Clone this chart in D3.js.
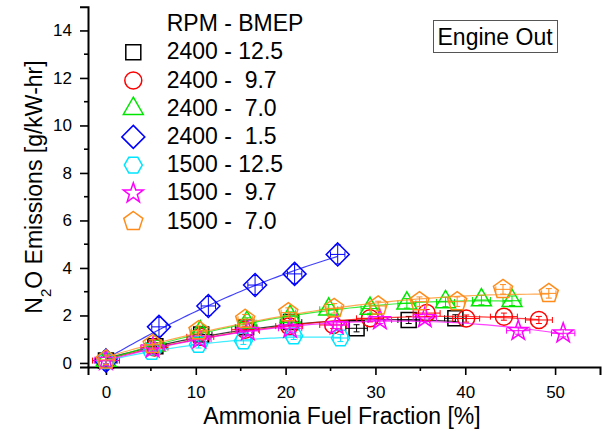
<!DOCTYPE html>
<html>
<head>
<meta charset="utf-8">
<script src="https://cdn.jsdelivr.net/npm/d3@7"></script>
<style>
    body { margin: 0; background: #fff; }
    text { font-family: "Liberation Sans", Arial, sans-serif; fill: #000; }
</style>
</head>
<body>
<svg id="chart" width="610" height="431"></svg>
<script>
// legend entries (RPM - BMEP), in drawing order
const seriesNames = ['2400 - 12.5', '2400 -  9.7', '2400 -  7.0', '2400 -  1.5', '1500 - 12.5', '1500 -  9.7', '1500 -  7.0'];
const seriesColors = ['#000000', '#ff0000', '#00e600', '#0000ff', '#00e5ff', '#ff00ff', '#ff8c1a'];
const seriesShapes = ['square', 'circle', 'triangle', 'diamond', 'hexagon', 'star', 'pentagon'];

// ammonia fuel fraction [%] and N2O [g/kW-hr]
const fraction2400_125 = [0, 5.5, 10.6, 15.6, 20.6, 27.9, 33.7, 38.9];
const n2o2400_125      = [0.1, 0.7, 1.2, 1.5, 1.72, 1.46, 1.81, 1.88];
const fraction2400_97  = [0, 5.4, 10.5, 15.5, 20.4, 25.3, 29.4, 35.7, 40.1, 44.3, 48.2];
const n2o2400_97       = [0.1, 0.65, 1.1, 1.4, 1.55, 1.6, 1.88, 2.1, 1.87, 1.95, 1.81];
const fraction2400_70  = [0, 5.5, 10.5, 15.7, 20.5, 24.8, 29.4, 33.5, 37.8, 41.8, 45.2];
const n2o2400_70       = [0.1, 0.75, 1.3, 1.7, 1.95, 2.26, 2.29, 2.51, 2.57, 2.65, 2.62];
const fraction2400_15  = [0, 5.9, 11.4, 16.6, 21.0, 25.8];
const n2o2400_15       = [0.1, 1.52, 2.4, 3.28, 3.75, 4.57];
const fraction1500_125 = [0, 5.1, 10.3, 15.3, 20.9, 26.1];
const n2o1500_125      = [0.1, 0.48, 0.78, 0.93, 1.14, 1.05];
const fraction1500_97  = [0, 5.2, 10.4, 15.8, 20.5, 25.7, 30.5, 35.5, 45.9, 50.9];
const n2o1500_97       = [0.1, 0.62, 1.0, 1.35, 1.46, 1.6, 1.81, 1.9, 1.36, 1.25];
const fraction1500_70  = [0, 5.2, 10.3, 15.5, 20.3, 25.4, 30.3, 34.9, 39.1, 44.2, 49.3];
const n2o1500_70       = [0.13, 0.78, 1.36, 1.84, 2.12, 2.3, 2.4, 2.58, 2.58, 3.1, 2.93];

// error bar half widths per series
const errFraction = [1.2, 1.5, 1.0, 0.8, 0.8, 1.3, 0.8];
const errN2O      = [0.15, 0.15, 0.2, 0.4, 0.15, 0.15, 0.2];

// ticks
const xTicks = [0, 10, 20, 30, 40, 50];
const xMinorTicks = [5, 15, 25, 35, 45];
const yTicks = [0, 2, 4, 6, 8, 10, 12, 14];
const yMinorTicks = [1, 3, 5, 7, 9, 11, 13];

const fractions = [fraction2400_125, fraction2400_97, fraction2400_70, fraction2400_15, fraction1500_125, fraction1500_97, fraction1500_70];
const emissions = [n2o2400_125, n2o2400_97, n2o2400_70, n2o2400_15, n2o1500_125, n2o1500_97, n2o1500_70];

const series = seriesNames.map((name, i) => ({
    name: name,
    color: seriesColors[i],
    shape: seriesShapes[i],
    ex: errFraction[i],
    ey: errN2O[i],
    points: fractions[i].map((f, j) => ({x: f, y: emissions[i][j]}))
}));

const svg = d3.select('#chart');

// scales
const x = d3.scaleLinear().domain([-2, 55]).range([88, 600]);
const y = d3.scaleLinear().domain([-0.17, 15]).range([367, 6.7]);

// marker shapes centred on 0,0
function polygon(n, r, rot) {
    return d3.range(n).map(i => {
        const a = rot + i * 2 * Math.PI / n;
        return [r * Math.cos(a), r * Math.sin(a)];
    });
}
function shapePath(type) {
    let pts;
    switch (type) {
        case 'square': pts = [[-7.5, -7.5], [7.5, -7.5], [7.5, 7.5], [-7.5, 7.5]]; break;
        case 'circle': return 'M8.5,0A8.5,8.5 0 1,1 -8.5,0A8.5,8.5 0 1,1 8.5,0Z';
        case 'triangle': pts = polygon(3, 11.5, -Math.PI / 2); break;
        case 'diamond': pts = polygon(4, 11.5, -Math.PI / 2); break;
        case 'hexagon': pts = polygon(6, 9, 0); break;
        case 'pentagon': pts = polygon(5, 10, -Math.PI / 2); break;
        case 'star':
            pts = d3.range(10).map(i => {
                const a = -Math.PI / 2 + i * Math.PI / 5;
                const r = i % 2 ? 4.2 : 10.5;
                return [r * Math.cos(a), r * Math.sin(a)];
            });
            break;
    }
    return 'M' + pts.map(p => p.join(',')).join('L') + 'Z';
}

// quadratic least squares fit, like the fitted curves of the original
function quadFit(pts) {
    let s = [0, 0, 0, 0, 0], t = [0, 0, 0];
    pts.forEach(p => {
        for (let k = 0; k < 5; k++) s[k] += Math.pow(p.x, k);
        for (let k = 0; k < 3; k++) t[k] += p.y * Math.pow(p.x, k);
    });
    const m = [[s[0], s[1], s[2], t[0]], [s[1], s[2], s[3], t[1]], [s[2], s[3], s[4], t[2]]];
    for (let c = 0; c < 3; c++) {
        for (let r = c + 1; r < 3; r++) {
            const f = m[r][c] / m[c][c];
            for (let k = c; k < 4; k++) m[r][k] -= f * m[c][k];
        }
    }
    const b = [0, 0, 0];
    for (let r = 2; r >= 0; r--) {
        let v = m[r][3];
        for (let k = r + 1; k < 3; k++) v -= m[r][k] * b[k];
        b[r] = v / m[r][r];
    }
    return xv => b[0] + b[1] * xv + b[2] * xv * xv;
}

// axes
const axisX = d3.axisBottom(x).tickValues(xTicks).tickSize(8).tickPadding(11).tickFormat(d3.format('d'));
const axisY = d3.axisLeft(y).tickValues(yTicks).tickSize(8).tickPadding(8).tickFormat(d3.format('d'));

const gx = svg.append('g').attr('transform', 'translate(0,367)').call(axisX);
const gy = svg.append('g').attr('transform', 'translate(88,0)').call(axisY);

// minor ticks, plain lines
gx.selectAll('.minor')
    .data(xMinorTicks)
    .enter()
    .append('line')
    .attr('class', 'minor')
    .attr('x1', d => x(d)).attr('x2', d => x(d))
    .attr('y1', 0).attr('y2', 4);
gy.selectAll('.minor')
    .data(yMinorTicks)
    .enter()
    .append('line')
    .attr('class', 'minor')
    .attr('y1', d => y(d)).attr('y2', d => y(d))
    .attr('x1', 0).attr('x2', -4);

svg.selectAll('.domain').attr('stroke', '#000').attr('stroke-width', 2);
svg.selectAll('.tick line, .minor').attr('stroke', '#000').attr('stroke-width', 1.6);
svg.selectAll('.tick text').style('font-size', '17px').style('font-family', '"Liberation Sans", Arial, sans-serif');

// axis titles
svg.append('text')
    .attr('x', 342).attr('y', 424)
    .attr('text-anchor', 'middle')
    .style('font-size', '23px')
    .text('Ammonia Fuel Fraction [%]');

const yTitle = svg.append('text')
    .attr('transform', 'translate(42,187) rotate(-90)')
    .attr('text-anchor', 'middle')
    .style('font-size', '23px');
yTitle.append('tspan').text('N');
yTitle.append('tspan').attr('baseline-shift', 'sub').style('font-size', '15px').text('2');
yTitle.append('tspan').text('O Emissions [g/kW-hr]');

// series: fitted line, error bars, markers
const plot = svg.append('g').attr('class', 'plot');
const line = d3.line().x(d => x(d.x)).y(d => y(d.y));

series.forEach(s => {
    const g = plot.append('g');
    const fit = quadFit(s.points);
    const xMax = d3.max(s.points, d => d.x);
    const curve = d3.range(0, 61).map(k => ({x: xMax * k / 60, y: fit(xMax * k / 60)}));
    g.append('path')
        .datum(curve)
        .attr('d', line)
        .attr('fill', 'none')
        .attr('stroke', s.color)
        .attr('stroke-opacity', 0.75)
        .attr('stroke-width', 1.2);

    const pt = g.selectAll('.pt')
        .data(s.points)
        .enter()
        .append('g')
        .attr('class', 'pt')
        .attr('transform', d => `translate(${x(d.x)},${y(d.y)})`);

    const dx = x(s.ex) - x(0);
    const dy = y(0) - y(s.ey);
    const err = `M${-dx},0H${dx}M${-dx},-3V3M${dx},-3V3M0,${-dy}V${dy}M-3,${-dy}H3M-3,${dy}H3`;
    pt.append('path')
        .attr('d', err)
        .attr('fill', 'none')
        .attr('stroke', s.color)
        .attr('stroke-width', 1);
    pt.append('path')
        .attr('d', shapePath(s.shape))
        .attr('fill', 'none')
        .attr('stroke', s.color)
        .attr('stroke-width', 1.5);
});

// legend
const legend = svg.append('g').attr('class', 'legend');
legend.append('text')
    .attr('x', 166.7).attr('y', 31)
    .style('font-size', '23px')
    .text('RPM - BMEP');

const rows = legend.selectAll('.row')
    .data(series)
    .enter()
    .append('g')
    .attr('class', 'row')
    .attr('transform', (d, i) => `translate(0,${59.3 + i * 28.2})`);
rows.append('path')
    .attr('transform', 'translate(133.3,-7)')
    .attr('d', d => shapePath(d.shape))
    .attr('fill', 'none')
    .attr('stroke', d => d.color)
    .attr('stroke-width', 1.5);
rows.append('text')
    .attr('x', 166.7)
    .attr('y', 0)
    .style('font-size', '23px')
    .style('white-space', 'pre')
    .text(d => d.name);

// annotation box
svg.append('rect')
    .attr('x', 433.5).attr('y', 20.5)
    .attr('width', 124).attr('height', 32)
    .attr('fill', 'none')
    .attr('stroke', '#555')
    .attr('stroke-width', 1);
svg.append('text')
    .attr('x', 437.5).attr('y', 45)
    .style('font-size', '23px')
    .text('Engine Out');
</script>
</body>
</html>
